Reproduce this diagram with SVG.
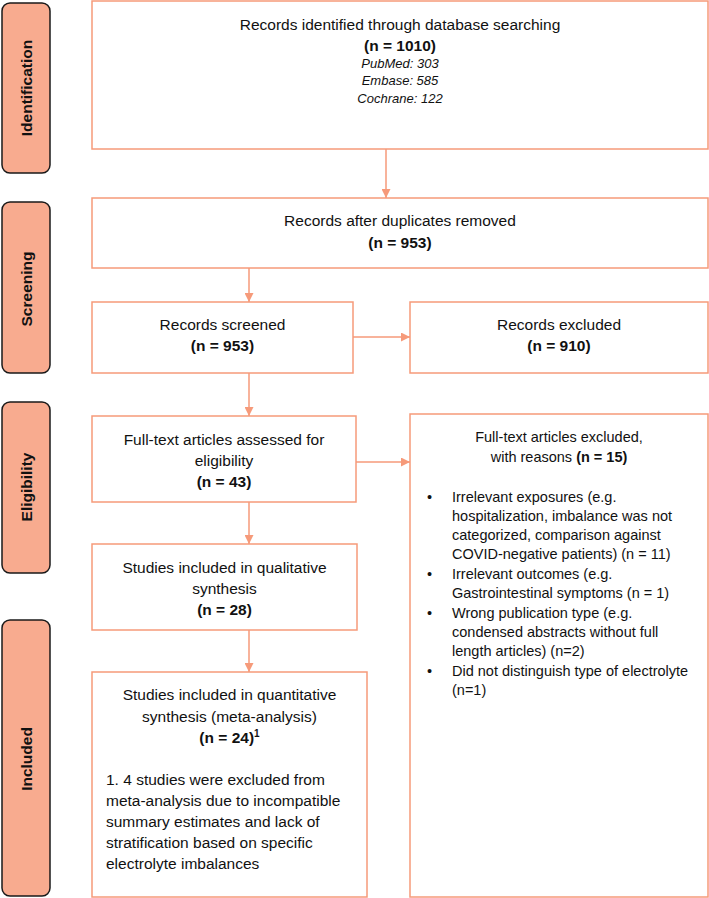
<svg xmlns="http://www.w3.org/2000/svg" width="709" height="898" viewBox="0 0 709 898">
<style>
text{font-family:"Liberation Sans",Arial,sans-serif;fill:#111;}
.box{fill:#fff;stroke:#F69A7A;stroke-width:1.5;}
.lab{fill:#F8AB8F;stroke:#1a1a1a;stroke-width:1.5;}
.lt{font-size:15.5px;font-weight:bold;text-anchor:middle;}
.t{font-size:15.5px;text-anchor:middle;}
.b{font-weight:bold;}
.i{font-size:13px;font-style:italic;text-anchor:middle;}
.r{font-size:14.5px;}
.rc{font-size:14.5px;text-anchor:middle;}
.f{font-size:15.5px;}
.con line{stroke:#F69A7A;stroke-width:1.5;marker-end:url(#ah);}
</style>
<defs>
<marker id="ah" viewBox="0 0 10 10" refX="10" refY="5" markerWidth="9" markerHeight="9" markerUnits="userSpaceOnUse" orient="auto">
<path d="M0,0 L10,5 L0,10 z" fill="#F69A7A"/>
</marker>
</defs>

<g id="label-identification">
<rect class="lab" x="2" y="3" width="48" height="170" rx="8"/>
<text class="lt" transform="translate(32,88) rotate(-90)">Identification</text>
</g>
<g id="label-screening">
<rect class="lab" x="2" y="202" width="48" height="171" rx="8"/>
<text class="lt" transform="translate(32,289) rotate(-90)">Screening</text>
</g>
<g id="label-eligibility">
<rect class="lab" x="2" y="402" width="48" height="171" rx="8"/>
<text class="lt" transform="translate(32,487) rotate(-90)">Eligibility</text>
</g>
<g id="label-included">
<rect class="lab" x="2" y="620" width="48" height="276" rx="8"/>
<text class="lt" transform="translate(32,759) rotate(-90)">Included</text>
</g>

<g id="identified">
<rect class="box" x="92" y="1" width="616" height="148"/>
<text class="t" x="400" y="30">Records identified through database searching</text>
<text class="t b" x="400" y="51">(n = 1010)</text>
<text class="i" x="400" y="68">PubMed: 303</text>
<text class="i" x="400" y="85">Embase: 585</text>
<text class="i" x="400" y="103">Cochrane: 122</text>
</g>

<g id="duplicates">
<rect class="box" x="92" y="198" width="616" height="70"/>
<text class="t" x="400" y="226">Records after duplicates removed</text>
<text class="t b" x="400" y="248">(n = 953)</text>
</g>

<g id="screened">
<rect class="box" x="92" y="302" width="261" height="71"/>
<text class="t" x="222.5" y="330">Records screened</text>
<text class="t b" x="222.5" y="351">(n = 953)</text>
</g>

<g id="excluded">
<rect class="box" x="410" y="302" width="298" height="71"/>
<text class="t" x="559" y="330">Records excluded</text>
<text class="t b" x="559" y="351">(n = 910)</text>
</g>

<g id="fulltext">
<rect class="box" x="92" y="416" width="264" height="86"/>
<text class="t" x="224" y="445">Full-text articles assessed for</text>
<text class="t" x="224" y="466">eligibility</text>
<text class="t b" x="224" y="487">(n = 43)</text>
</g>

<g id="fulltext-excluded">
<rect class="box" x="410" y="414" width="298" height="483"/>
<text class="rc" x="559" y="442">Full-text articles excluded,</text>
<text class="rc" x="559" y="462">with reasons <tspan class="b">(n = 15)</tspan></text>
<text class="r" x="427" y="502">•</text>
<text class="r" x="452" y="502">Irrelevant exposures (e.g.</text>
<text class="r" x="452" y="521">hospitalization, imbalance was not</text>
<text class="r" x="452" y="540">categorized, comparison against</text>
<text class="r" x="452" y="559">COVID-negative patients) (n = 11)</text>
<text class="r" x="427" y="579">•</text>
<text class="r" x="452" y="579">Irrelevant outcomes (e.g.</text>
<text class="r" x="452" y="598">Gastrointestinal symptoms (n = 1)</text>
<text class="r" x="427" y="618">•</text>
<text class="r" x="452" y="618">Wrong publication type (e.g.</text>
<text class="r" x="452" y="637">condensed abstracts without full</text>
<text class="r" x="452" y="656">length articles) (n=2)</text>
<text class="r" x="427" y="676">•</text>
<text class="r" x="452" y="676">Did not distinguish type of electrolyte</text>
<text class="r" x="452" y="695">(n=1)</text>
</g>

<g id="qualitative">
<rect class="box" x="92" y="544" width="265" height="86"/>
<text class="t" x="224.5" y="573">Studies included in qualitative</text>
<text class="t" x="224.5" y="594">synthesis</text>
<text class="t b" x="224.5" y="615">(n = 28)</text>
</g>

<g id="quantitative">
<rect class="box" x="92" y="672" width="275" height="225"/>
<text class="t" x="229.5" y="700">Studies included in quantitative</text>
<text class="t" x="229.5" y="722">synthesis (meta-analysis)</text>
<text class="t b" x="229.5" y="743">(n = 24)<tspan font-size="10" dy="-6">1</tspan></text>
<text class="f" x="106" y="785">1. 4 studies were excluded from</text>
<text class="f" x="106" y="806">meta-analysis due to incompatible</text>
<text class="f" x="106" y="827">summary estimates and lack of</text>
<text class="f" x="106" y="848">stratification based on specific</text>
<text class="f" x="106" y="869">electrolyte imbalances</text>
</g>

<g id="connectors" class="con">
<line x1="386" y1="149" x2="386" y2="198"/>
<line x1="249" y1="268" x2="249" y2="302"/>
<line x1="353" y1="337" x2="410" y2="337"/>
<line x1="249" y1="373" x2="249" y2="416"/>
<line x1="356" y1="462" x2="410" y2="462"/>
<line x1="249" y1="502" x2="249" y2="544"/>
<line x1="249" y1="630" x2="249" y2="672"/>
</g>
</svg>
